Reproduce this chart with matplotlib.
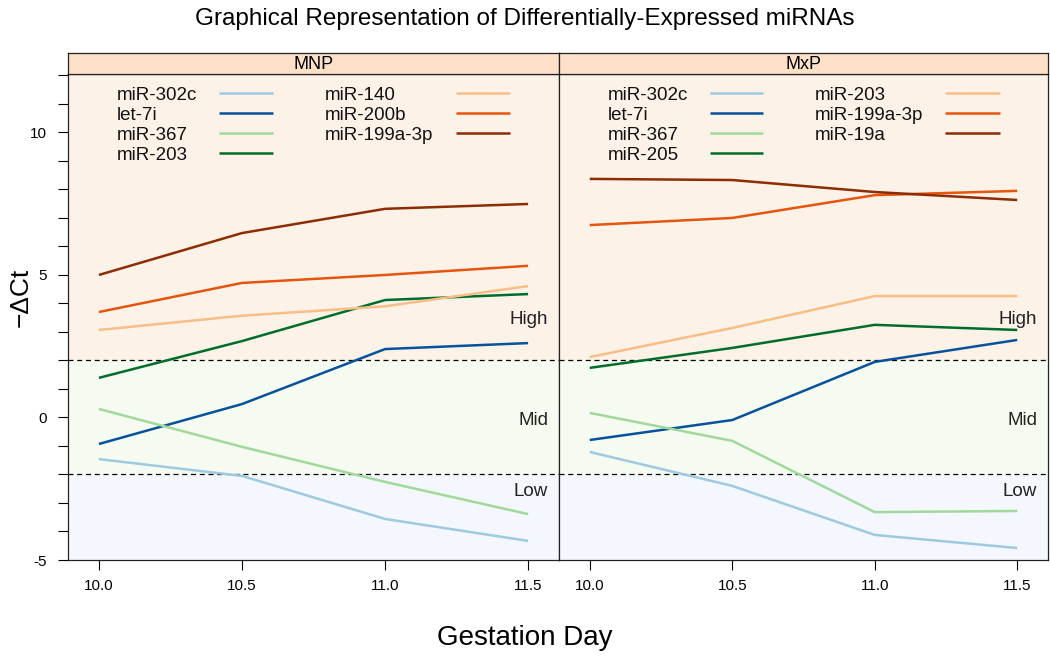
import matplotlib
matplotlib.use("Agg")
import matplotlib.pyplot as plt
from matplotlib.ticker import MultipleLocator, NullFormatter
from matplotlib.transforms import blended_transform_factory

############# DATA ###############
DAYS = [10.0, 10.5, 11.0, 11.5]

MNP_NAMES = ["miR-302c", "let-7i", "miR-367", "miR-203",
             "miR-140", "miR-200b", "miR-199a-3p"]
MNP_VALUES = [
    [-1.46, -2.05, -3.56, -4.33],
    [-0.93, 0.47, 2.40, 2.61],
    [0.30, -1.03, -2.26, -3.39],
    [1.39, 2.68, 4.12, 4.33],
    [3.07, 3.57, 3.90, 4.61],
    [3.70, 4.72, 5.00, 5.32],
    [5.00, 6.47, 7.32, 7.49],
]

MXP_NAMES = ["miR-302c", "let-7i", "miR-367", "miR-205",
             "miR-203", "miR-199a-3p", "miR-19a"]
MXP_VALUES = [
    [-1.21, -2.40, -4.12, -4.58],
    [-0.79, -0.09, 1.95, 2.72],
    [0.16, -0.82, -3.32, -3.28],
    [1.74, 2.44, 3.25, 3.07],
    [2.12, 3.14, 4.26, 4.26],
    [6.75, 7.00, 7.80, 7.95],
    [8.37, 8.33, 7.91, 7.63],
]

PANELS = ["MNP", "MxP"]
XTICKS = [10.0, 10.5, 11.0, 11.5]
XTICK_LABELS = ["10.0", "10.5", "11.0", "11.5"]
YTICKS = [-5, 0, 5, 10]
THRESHOLDS = [-2, 2]
ZONES = ["Low", "Mid", "High"]
###################################

############ STYLE ###############
LINE_COLORS = ["#9ECAE1", "#08519C", "#A1D99B", "#006D2C",
               "#F9BE86", "#E6550D", "#8C2D04"]
BAND_COLORS = {"High": "#FDF2E8", "Mid": "#F6FBF1", "Low": "#F4F7FD"}
STRIP_COLOR = "#FCE0C7"
YLIM = (-5.0, 12.05)
XLIM = (9.892, 11.608)
ZONE_Y = {"High": 3.42, "Mid": -0.09, "Low": -2.58}
FIG_W, FIG_H = 1050, 662

# legend layout in axes fraction
LEG_TEXT_X = [0.100, 0.524]
LEG_LINE_X = [(0.308, 0.417), (0.790, 0.901)]
LEG_ROW_Y = [0.961, 0.920, 0.879, 0.838]
###################################

plt.rcParams["font.family"] = ["Liberation Sans", "DejaVu Sans"]
plt.rcParams["axes.unicode_minus"] = False
NARROW = ["Liberation Sans Narrow", "Liberation Sans", "DejaVu Sans"]

fig = plt.figure(figsize=(FIG_W / 100, FIG_H / 100), dpi=100)


def px_box(x0, y0, x1, y1):
    # pixel box (top-left origin) -> figure fraction rect
    return [x0 / FIG_W, 1 - y1 / FIG_H, (x1 - x0) / FIG_W, (y1 - y0) / FIG_H]


panel_px = [(68, 559), (559, 1048)]
data_sets = [(MNP_NAMES, MNP_VALUES), (MXP_NAMES, MXP_VALUES)]

for p, (panel, (x0, x1)) in enumerate(zip(PANELS, panel_px)):
    ax = fig.add_axes(px_box(x0, 74, x1, 560))
    names, values = data_sets[p]

    # background bands
    ax.axhspan(THRESHOLDS[1], YLIM[1], color=BAND_COLORS["High"], lw=0, zorder=0)
    ax.axhspan(THRESHOLDS[0], THRESHOLDS[1], color=BAND_COLORS["Mid"], lw=0, zorder=0)
    ax.axhspan(YLIM[0], THRESHOLDS[0], color=BAND_COLORS["Low"], lw=0, zorder=0)
    for t in THRESHOLDS:
        ax.axhline(t, color="black", ls=(0, (4, 3)), lw=0.9, zorder=1)

    for name, vals, col in zip(names, values, LINE_COLORS):
        ax.plot(DAYS, vals, color=col, lw=1.8, zorder=3, solid_capstyle="butt")

    # key: text first, then a line sample (4 rows in col 1, 3 in col 2)
    for i, (name, col) in enumerate(zip(names, LINE_COLORS)):
        c, r = divmod(i, 4)
        ax.text(LEG_TEXT_X[c], LEG_ROW_Y[r] - 0.006, name, transform=ax.transAxes,
                ha="left", va="center", fontsize=13.5, color="#111111")
        ax.plot(LEG_LINE_X[c], [LEG_ROW_Y[r]] * 2, transform=ax.transAxes,
                color=col, lw=1.8, solid_capstyle="butt")

    tr = blended_transform_factory(ax.transAxes, ax.transData)
    for z in ZONES:
        ax.text(0.978, ZONE_Y[z], z, transform=tr, ha="right", va="center",
                fontsize=13.5, color="#222222")

    ax.set_xlim(*XLIM)
    ax.set_ylim(*YLIM)
    ax.set_xticks(XTICKS)
    ax.set_xticklabels(XTICK_LABELS, family=NARROW, fontsize=11)
    ax.tick_params(axis="x", direction="out", length=7, width=0.8, pad=7,
                   top=False)
    if p == 0:
        ax.set_yticks(YTICKS)
        ax.yaxis.set_minor_locator(MultipleLocator(1))
        ax.yaxis.set_minor_formatter(NullFormatter())
        ax.tick_params(axis="y", which="both", direction="out", length=7,
                       width=0.8, labelsize=11, pad=8)
        for lab in ax.get_yticklabels():
            lab.set_family(NARROW)
    else:
        ax.set_yticks([])
    for s in ax.spines.values():
        s.set_color("#222222")
        s.set_linewidth(0.9)

    # strip header
    sx = fig.add_axes(px_box(x0, 53, x1, 74))
    sx.set_facecolor(STRIP_COLOR)
    sx.set_xticks([])
    sx.set_yticks([])
    for s in sx.spines.values():
        s.set_color("#222222")
        s.set_linewidth(0.9)
    sx.text(0.5, 0.45, panel, ha="center", va="center", fontsize=13,
            transform=sx.transAxes)

fig.text(0.5, 1 - 19 / FIG_H, "Graphical Representation of Differentially-Expressed miRNAs",
         ha="center", va="center", fontsize=17.5)
fig.text(0.5, 1 - 638 / FIG_H, "Gestation Day", ha="center", va="center",
         fontsize=20)
fig.text(21 / FIG_W, 1 - 297 / FIG_H, "\u2212\u0394Ct", ha="center", va="center",
         rotation=90, fontsize=19)

fig.savefig("out.png", dpi=100)
